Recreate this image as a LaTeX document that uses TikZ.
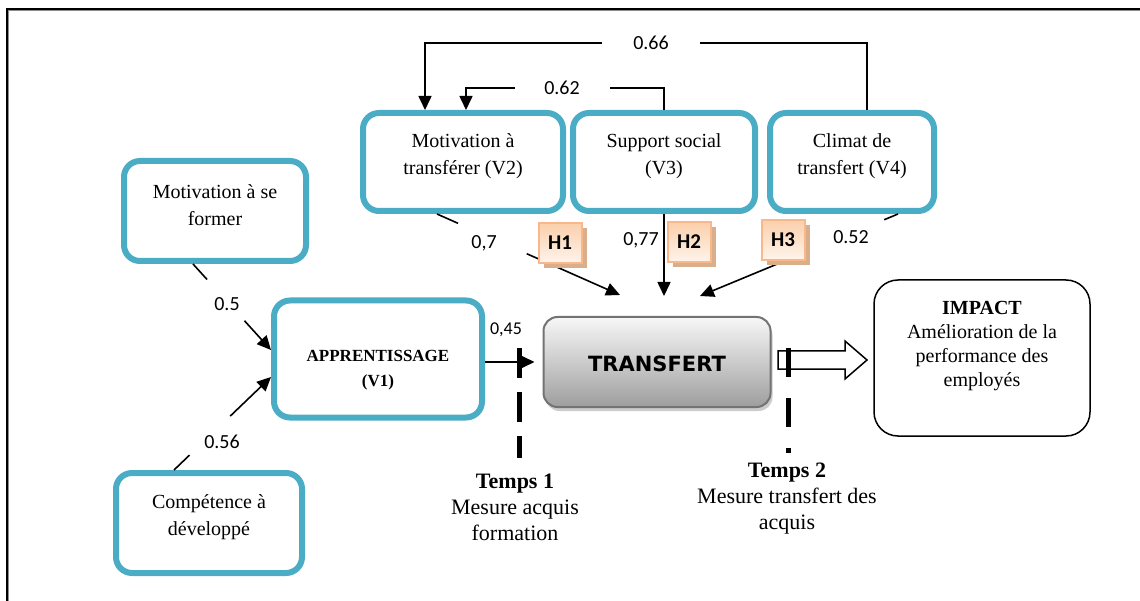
\documentclass[tikz,border=0pt]{standalone}
\usepackage{fontspec}
\setmainfont{Liberation Serif}
\newfontfamily\calib{Carlito}
\newfontfamily\djv{DejaVu Sans}
\usetikzlibrary{arrows.meta,calc,shadows}
\definecolor{boxblue}{HTML}{4BACC6}
\definecolor{hborder}{HTML}{F8B88B}
\definecolor{htop}{HTML}{FBCFAB}
\definecolor{hbot}{HTML}{FEF4EC}
\definecolor{hshadow}{HTML}{D9AE8A}
\begin{document}
\begin{tikzpicture}[x=1pt,y=-1pt,
  bluebox/.style={draw=boxblue, line width=6pt, rounded corners=16pt, fill=white},
  txt/.style={font=\fontsize{20}{27}\selectfont, align=center, inner sep=0pt},
  ttxt/.style={font=\fontsize{22}{26}\selectfont, align=center, inner sep=0pt},
  num/.style={font=\calib\fontsize{20}{24}\selectfont, inner sep=0pt},
  gaplabel/.style={num, fill=white, minimum height=12pt},
  ln/.style={line width=1.6pt},
  arr/.style={line width=1.6pt, -{Triangle[length=14pt,width=13pt]}},
  hbox/.style={draw=hborder, line width=2pt, top color=htop, bottom color=hbot,
    minimum width=43pt, minimum height=40pt, inner sep=0pt, text depth=-4pt,
    font=\calib\bfseries\fontsize{21}{22}\selectfont,
    general shadow={shadow xshift=5pt, shadow yshift=-5pt, fill=hshadow}},
  tbox/.style={draw=black!55, line width=2pt, rounded corners=14pt,
    top color=black!3, bottom color=black!38,
    minimum width=227pt, minimum height=90pt,
    general shadow={shadow xshift=2pt, shadow yshift=-4pt, fill=black!20, rounded corners=14pt}},
]
\useasboundingbox (0,0) rectangle (1140,601);
\fill[white] (0,0) rectangle (1140,601);
% frame
\draw[line width=2.5pt, black!45] (8,601) -- (8,10) -- (1140,10);
\draw[line width=1.5pt] (7,601) -- (7,9) -- (1140,9);

% blue boxes
\node[bluebox, minimum width=200pt, minimum height=98pt] (V2) at (463,162) {};
\node[bluebox, minimum width=182pt, minimum height=98pt] (V3) at (664,162) {};
\node[bluebox, minimum width=164pt, minimum height=98pt] (V4) at (852,162) {};
\node[bluebox, minimum width=182pt, minimum height=100pt] (MF) at (215,211) {};
\node[bluebox, minimum width=208pt, minimum height=117pt] (AP) at (378,359) {};
\node[bluebox, minimum width=186pt, minimum height=100pt] (CD) at (209,523) {};

\node[txt] (V2t) at (463,156) {Motivation à\\transférer (V2)};
\node[txt] (V3t) at (664,156) {Support social\\(V3)};
\node[txt] (V4t) at (852,156) {Climat de\\transfert (V4)};
\node[txt] (MFt) at (215,205) {Motivation à se\\former};
\node[txt] (CDt) at (209,517) {Compétence à\\développé};
\node[txt, font=\bfseries\fontsize{17}{25}\selectfont] (APt) at (378,370) {APPRENTISSAGE\\(V1)};

% transfert
\node[tbox] (TR) at (657,362) {};
\node[font=\djv\bfseries\fontsize{21}{24}\selectfont, inner sep=0pt] (TRt) at (657,364) {TRANSFERT};

% impact
\node[draw, line width=1.5pt, rounded corners=24pt, minimum width=216pt, minimum height=156pt] (IM) at (982,358) {};
\node[txt, font=\fontsize{20}{24}\selectfont] (IMt) at (982,346) {\textbf{IMPACT}\\Amélioration de la\\performance des\\employés};

% top connectors
\coordinate (c66) at (651,43);
\coordinate (c62) at (562,88);
\draw[arr] ([xshift=15pt]V4.north) |- (c66) -| ([xshift=-38pt]V2.north);
\node[gaplabel, minimum width=98pt] (l66) at (c66) {0.66};
\draw[arr] (V3.north) |- (c62) -| ([xshift=3pt]V2.north);
\node[gaplabel, minimum width=95pt] (l62) at (c62) {0.62};

% arrows into transfert
\coordinate (t1) at (620,295);
\coordinate (t2) at (664,296);
\coordinate (t3) at (700,296);
\coordinate (s1) at ([xshift=-26pt]V2.south);
\coordinate (s3) at ([xshift=46pt]V4.south);
\draw[ln] (s1) -- ($(s1)!0.115!(t1)$);
\draw[arr] ($(s1)!0.49!(t1)$) -- (t1);
\draw[arr] (V3.south) -- (t2);
\draw[ln] (s3) -- ($(s3)!0.07!(t3)$);
\draw[arr] ($(s3)!0.5!(t3)$) -- (t3);

\node[num] (l7) at (484,243) {0,7};
\node[num] (l77) at (641,240) {0,77};
\node[num] (l52) at (851,237) {0.52};

% H boxes
\node[hbox] (H1) at (560,243) {H1};
\node[hbox] (H2) at (689,242) {H2};
\node[hbox] (H3) at (783,240) {H3};

% arrows into apprentissage
\coordinate (s5) at ([xshift=-22pt]MF.south);
\coordinate (t5) at ([yshift=9pt]AP.west);
\draw[ln] (s5) -- ($(s5)!0.18!(t5)$);
\draw[arr] ($(s5)!0.66!(t5)$) -- (t5);
\node[num] (l5) at (227,304) {0.5};
\coordinate (s6) at ([xshift=-35pt]CD.north);
\coordinate (t6) at ([yshift=-18pt]AP.west);
\draw[ln] (s6) -- ($(s6)!0.16!(t6)$);
\draw[arr] ($(s6)!0.58!(t6)$) -- (t6);
\node[num] (l56) at (222,442) {0.56};

% 0,45
\draw[arr] (AP.east |- TR.west) -- ([xshift=-8pt]TR.west);
\node[num, font=\calib\fontsize{18}{20}\selectfont] (l45) at (506,330) {0,45};

% hollow arrow
\draw[line width=1.5pt, fill=white] (778,351) -- (845,351) -- (845,341) -- (867,360) -- (845,379) -- (845,369) -- (778,369) -- cycle;

% dashed time lines
\draw[line width=5pt, dash pattern=on 30pt off 14pt] (519,348) -- (519,458);
\draw[line width=5pt, dash pattern=on 29pt off 21pt] (788,348) -- (788,453);

\node[ttxt] (T1) at (515,507) {\textbf{Temps 1}\\Mesure acquis\\formation};
\node[ttxt] (T2) at (787,499) {\textbf{Temps 2}\\Mesure transfert des\\acquis};
\end{tikzpicture}
\end{document}
